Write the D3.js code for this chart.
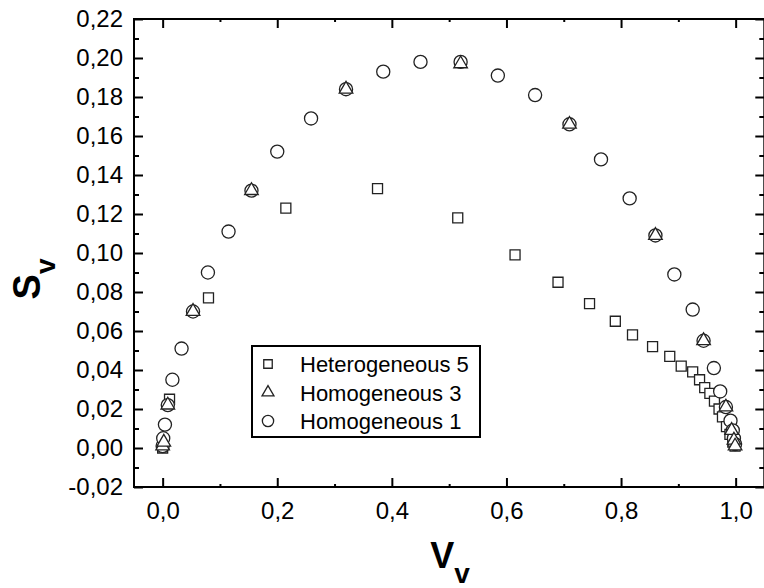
<!DOCTYPE html>
<html>
<head>
<meta charset="utf-8">
<script src="https://cdn.jsdelivr.net/npm/d3@7"></script>
<style>
  body { margin: 0; background: #fff; }
  svg { font-family: "Liberation Sans", Arial, Helvetica, sans-serif; }
</style>
</head>
<body>
<div id="chart"></div>
<script>
// series values [Vv, Sv]
var hetero5 = [
  [0.000, 0.000], [0.012, 0.025], [0.080, 0.077], [0.215, 0.123], [0.375, 0.133],
  [0.515, 0.118], [0.615, 0.099], [0.690, 0.085], [0.745, 0.074], [0.790, 0.065],
  [0.820, 0.058], [0.855, 0.052], [0.885, 0.047], [0.905, 0.042], [0.925, 0.039],
  [0.937, 0.035], [0.946, 0.031], [0.955, 0.028], [0.963, 0.024], [0.971, 0.020],
  [0.977, 0.016], [0.984, 0.011], [0.990, 0.007], [0.995, 0.003], [0.999, 0.001]
];
var homo3 = [
  [0.000, 0.001], [0.002, 0.003], [0.009, 0.022], [0.053, 0.070], [0.155, 0.132],
  [0.320, 0.184], [0.520, 0.197], [0.710, 0.166], [0.860, 0.109], [0.944, 0.055],
  [0.983, 0.021], [0.993, 0.009], [0.997, 0.004], [0.999, 0.001]
];
var homo1 = [
  [0.000, 0.001], [0.001, 0.005], [0.004, 0.012], [0.009, 0.022], [0.017, 0.035],
  [0.033, 0.051], [0.053, 0.070], [0.079, 0.090], [0.115, 0.111], [0.155, 0.132],
  [0.200, 0.152], [0.259, 0.169], [0.320, 0.184], [0.385, 0.193], [0.450, 0.198],
  [0.520, 0.198], [0.585, 0.191], [0.650, 0.181], [0.710, 0.166], [0.765, 0.148],
  [0.815, 0.128], [0.860, 0.109], [0.893, 0.089], [0.925, 0.071], [0.944, 0.055],
  [0.962, 0.041], [0.973, 0.029], [0.983, 0.021], [0.991, 0.014], [0.995, 0.009],
  [0.997, 0.005], [0.999, 0.002]
];
var seriesNames = ["Heterogeneous 5", "Homogeneous 3", "Homogeneous 1"];
var xTicks = [0.0, 0.2, 0.4, 0.6, 0.8, 1.0];
var yTicks = [-0.02, 0.00, 0.02, 0.04, 0.06, 0.08, 0.10, 0.12, 0.14, 0.16, 0.18, 0.20, 0.22];

var width = 764, height = 588;
var plotLeft = 134, plotTop = 19, plotBottom = 487;

var svg = d3.select("#chart")
    .append("svg")
    .attr("width", width)
    .attr("height", height);

var xScale = d3.scaleLinear()
    .domain([-0.05, 1.05])
    .range([plotLeft, plotLeft + 630.3]);

var yScale = d3.scaleLinear()
    .domain([-0.02, 0.22])
    .range([plotBottom, plotTop]);

var plotRight = xScale.range()[1];

var fmtX = v => d3.format(".1f")(v).replace(".", ",");
var fmtY = v => d3.format(".2f")(v).replace(".", ",").replace("−", "-");

var xMinor = d3.range(0.1, 1.0, 0.2);
var yMinor = d3.range(-0.01, 0.22, 0.02);

function styleAxis(g) {
    g.select(".domain").remove();
    g.selectAll("line").attr("stroke", "#000").attr("stroke-width", 2);
    g.selectAll("text").attr("fill", "#000").style("font-size", "24px");
}

// bottom
svg.append("g")
    .attr("transform", "translate(0," + plotBottom + ")")
    .call(d3.axisBottom(xScale).tickValues(xTicks).tickSize(-9).tickPadding(15).tickFormat(fmtX))
    .call(styleAxis);
svg.append("g")
    .attr("transform", "translate(0," + plotBottom + ")")
    .call(d3.axisBottom(xScale).tickValues(xMinor).tickSize(-3).tickFormat(""))
    .call(styleAxis);
// top
svg.append("g")
    .attr("transform", "translate(0," + plotTop + ")")
    .call(d3.axisTop(xScale).tickValues(xTicks).tickSize(-9).tickFormat(""))
    .call(styleAxis);
svg.append("g")
    .attr("transform", "translate(0," + plotTop + ")")
    .call(d3.axisTop(xScale).tickValues(xMinor).tickSize(-3).tickFormat(""))
    .call(styleAxis);
// left
svg.append("g")
    .attr("transform", "translate(" + plotLeft + ",0)")
    .call(d3.axisLeft(yScale).tickValues(yTicks).tickSize(-9).tickPadding(11).tickFormat(fmtY))
    .call(styleAxis);
svg.append("g")
    .attr("transform", "translate(" + plotLeft + ",0)")
    .call(d3.axisLeft(yScale).tickValues(yMinor).tickSize(-5).tickFormat(""))
    .call(styleAxis);
// right
svg.append("g")
    .attr("transform", "translate(" + plotRight + ",0)")
    .call(d3.axisRight(yScale).tickValues(yTicks).tickSize(-9).tickFormat(""))
    .call(styleAxis);
svg.append("g")
    .attr("transform", "translate(" + plotRight + ",0)")
    .call(d3.axisRight(yScale).tickValues(yMinor).tickSize(-5).tickFormat(""))
    .call(styleAxis);

svg.append("rect")
    .attr("x", plotLeft)
    .attr("y", plotTop)
    .attr("width", plotRight - plotLeft)
    .attr("height", plotBottom - plotTop)
    .attr("fill", "none")
    .attr("stroke", "#000")
    .attr("stroke-width", 2);

var symbols = [
    d3.symbol().type(d3.symbolSquare).size(100),
    d3.symbol().type(d3.symbolTriangle).size(80),
    d3.symbol().type(d3.symbolCircle).size(135)
];
var legendSymbols = [
    d3.symbol().type(d3.symbolSquare).size(72),
    d3.symbol().type(d3.symbolTriangle).size(62),
    d3.symbol().type(d3.symbolCircle).size(100)
];

function drawPoints(data, sym, cls) {
    svg.selectAll("." + cls)
        .data(data)
        .enter().append("path")
        .attr("class", cls)
        .attr("transform", d => "translate(" + xScale(d[0]) + "," + yScale(d[1]) + ")")
        .attr("d", sym)
        .attr("fill", "#fff")
        .attr("stroke", "#222")
        .attr("stroke-width", 1.3);
}

drawPoints(hetero5, symbols[0], "het5");
drawPoints(homo1, symbols[2], "hom1");
drawPoints(homo3, symbols[1], "hom3");

// legend
var legend = svg.append("g");
legend.append("rect")
    .attr("x", 252)
    .attr("y", 346)
    .attr("width", 228)
    .attr("height", 91)
    .attr("fill", "#fff")
    .attr("stroke", "#000")
    .attr("stroke-width", 2);

seriesNames.forEach(function(name, i) {
    var cy = 364 + i * 28.5;
    legend.append("path")
        .attr("transform", "translate(268," + cy + ")")
        .attr("d", legendSymbols[i])
        .attr("fill", "#fff")
        .attr("stroke", "#222")
        .attr("stroke-width", 1.3);
    legend.append("text")
        .attr("x", 300)
        .attr("y", cy + 8)
        .style("font-size", "22px")
        .text(name);
});

// axis titles
var xt = svg.append("text")
    .attr("x", 450)
    .attr("y", 568)
    .attr("text-anchor", "middle")
    .style("font-weight", "bold")
    .style("font-size", "36px");
xt.append("tspan").text("V");
xt.append("tspan").attr("dy", 15).style("font-size", "28px").text("v");

var yt = svg.append("text")
    .attr("transform", "translate(40,279) rotate(-90)")
    .attr("text-anchor", "middle")
    .style("font-weight", "bold")
    .style("font-size", "38px");
yt.append("tspan").text("S");
yt.append("tspan").attr("dy", 15).style("font-size", "28px").text("v");
</script>
</body>
</html>
